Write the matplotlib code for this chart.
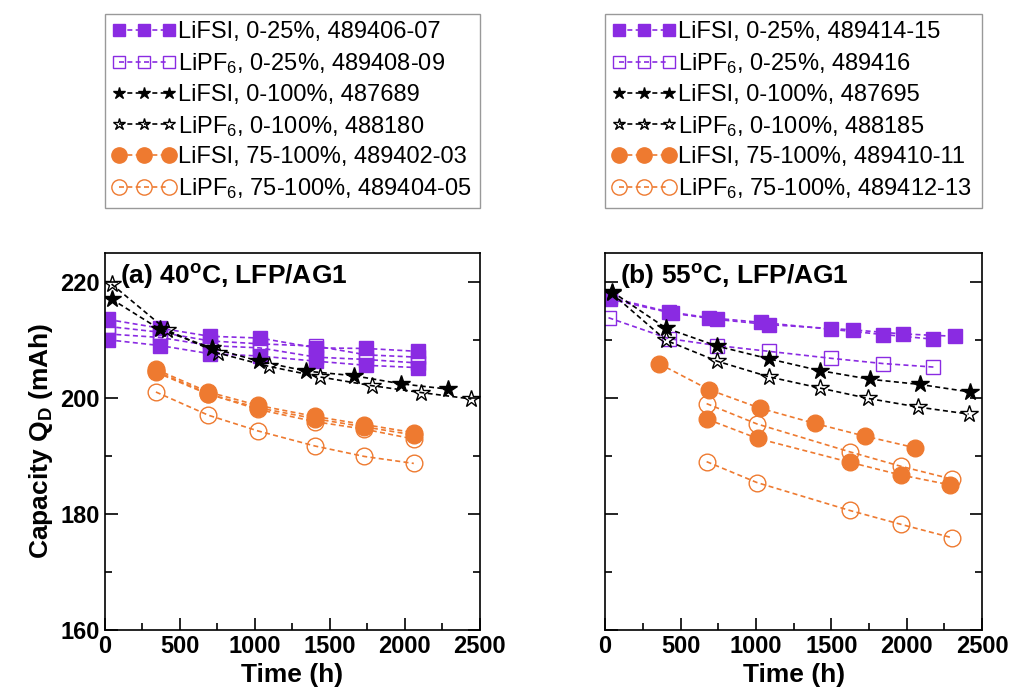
#!/usr/bin/env python3

"""
Capacity fade of LFP/AG1 cells at 40 and 55 C, LiFSI vs LiPF6
"""

import matplotlib
matplotlib.use("Agg")
import matplotlib.pyplot as plt

plt.rcParams["font.family"] = ["Liberation Sans", "DejaVu Sans"]
plt.rcParams["mathtext.fontset"] = "custom"
plt.rcParams["mathtext.rm"] = "Liberation Sans"
plt.rcParams["mathtext.bf"] = "Liberation Sans:bold"
plt.rcParams["mathtext.default"] = "regular"

PURPLE = "#8A2BE2"
ORANGE = "#EE7A30"

# ---- panel (a): 40C ----
a_sq_t = [20, 367, 700, 1033, 1411, 1744, 2089]
a_fsi25_1 = [213.5, 212.0, 210.6, 210.3, 208.6, 208.5, 208.0]
a_fsi25_2 = [210.0, 209.0, 207.6, 207.2, 206.3, 205.6, 205.2]
a_pf25_1 = [212.3, 211.3, 209.8, 209.3, 208.9, 207.4, 207.0]
a_pf25_2 = [211.0, 210.4, 209.0, 208.6, 207.0, 206.6, 206.0]

a_fsi100_t = [44, 367, 711, 1029, 1344, 1662, 1978, 2289]
a_fsi100 = [217.0, 211.8, 208.6, 206.3, 204.6, 203.8, 202.4, 201.5]
a_pf100_t = [44, 411, 756, 1096, 1433, 1778, 2111, 2444]
a_pf100 = [219.6, 211.7, 207.7, 205.4, 203.6, 202.1, 200.9, 199.8]

a_75_t = [340, 690, 1020, 1400, 1730, 2060]
a_fsi75_1 = [204.9, 201.0, 198.7, 196.8, 195.4, 194.0]
a_fsi75_2 = [204.4, 200.6, 198.3, 196.4, 195.0, 193.6]
a_pf75_1 = [204.6, 200.7, 198.0, 195.9, 194.6, 192.9]
a_pf75_2 = [201.0, 197.0, 194.3, 191.7, 189.9, 188.7]

# ---- panel (b): 55C ----
b_fsi25_t1 = [30, 422, 689, 1033, 1500, 1844, 2178]
b_fsi25_1 = [217.3, 214.8, 213.8, 213.0, 211.8, 210.9, 210.1]
b_fsi25_t2 = [30, 440, 744, 1089, 1644, 1978, 2322]
b_fsi25_2 = [217.0, 214.6, 213.5, 212.6, 211.7, 211.0, 210.6]
b_pf25_t = [22, 422, 744, 1089, 1500, 1844, 2178]
b_pf25 = [213.8, 210.2, 209.0, 208.0, 206.8, 205.9, 205.3]

b_fsi100_t = [44, 404, 744, 1089, 1422, 1756, 2089, 2422]
b_fsi100 = [218.3, 212.0, 208.9, 206.7, 204.7, 203.2, 202.3, 201.0]
b_pf100_t = [44, 404, 744, 1089, 1422, 1744, 2078, 2411]
b_pf100 = [218.0, 209.9, 206.3, 203.6, 201.7, 199.9, 198.4, 197.2]

b_fsi75_t1 = [356, 689, 1029, 1389, 1722, 2056]
b_fsi75_1 = [205.9, 201.4, 198.2, 195.6, 193.4, 191.4]
b_fsi75_t2 = [678, 1011, 1622, 1962, 2289]
b_fsi75_2 = [196.3, 193.0, 188.9, 186.7, 185.0]
b_pf75_t = [673, 1007, 1622, 1962, 2300]
b_pf75_1 = [199.0, 195.5, 190.7, 188.2, 186.0]
b_pf75_2 = [189.0, 185.4, 180.6, 178.2, 175.9]

labels_a = ["LiFSI, 0-25%, 489406-07", "LiPF$_6$, 0-25%, 489408-09",
            "LiFSI, 0-100%, 487689", "LiPF$_6$, 0-100%, 488180",
            "LiFSI, 75-100%, 489402-03", "LiPF$_6$, 75-100%, 489404-05"]
labels_b = ["LiFSI, 0-25%, 489414-15", "LiPF$_6$, 0-25%, 489416",
            "LiFSI, 0-100%, 487695", "LiPF$_6$, 0-100%, 488185",
            "LiFSI, 75-100%, 489410-11", "LiPF$_6$, 75-100%, 489412-13"]

# style per group: (color, marker, filled, size, legend size)
styles = [(PURPLE, "s", True, 10, 8), (PURPLE, "s", False, 10, 8),
          ("black", "*", True, 13, 9), ("black", "*", False, 13, 9),
          (ORANGE, "o", True, 12, 11), (ORANGE, "o", False, 12, 11)]

panel_a = [
    [(a_sq_t, a_fsi25_1), (a_sq_t, a_fsi25_2)],
    [(a_sq_t, a_pf25_1), (a_sq_t, a_pf25_2)],
    [(a_fsi100_t, a_fsi100)],
    [(a_pf100_t, a_pf100)],
    [(a_75_t, a_fsi75_1), (a_75_t, a_fsi75_2)],
    [(a_75_t, a_pf75_1), (a_75_t, a_pf75_2)],
]
panel_b = [
    [(b_fsi25_t1, b_fsi25_1), (b_fsi25_t2, b_fsi25_2)],
    [(b_pf25_t, b_pf25)],
    [(b_fsi100_t, b_fsi100)],
    [(b_pf100_t, b_pf100)],
    [(b_fsi75_t1, b_fsi75_1), (b_fsi75_t2, b_fsi75_2)],
    [(b_pf75_t, b_pf75_1), (b_pf75_t, b_pf75_2)],
]

fig = plt.figure(figsize=(10.24, 7.0), dpi=100)
ax1 = fig.add_axes([0.1025, 0.1, 0.366, 0.539])
ax2 = fig.add_axes([0.591, 0.1, 0.368, 0.539])


def draw(ax, groups, labels, title):
    handles = []
    for (col, mk, filled, ms, _), series, lab in zip(styles, groups, labels):
        for i, (t, q) in enumerate(series):
            h, = ax.plot(t, q, linestyle=(0, (3, 2)), lw=1.2, color=col,
                         marker=mk, ms=ms, mec=col, mew=1.0,
                         mfc=col if filled else "none",
                         label=lab if i == 0 else None)
            if i == 0:
                handles.append(h)
    ax.set_xlim(0, 2500)
    ax.set_ylim(160, 225)
    ax.set_xticks([0, 500, 1000, 1500, 2000, 2500])
    ax.set_xticks(range(250, 2500, 500), minor=True)
    ax.set_yticks([160, 180, 200, 220])
    ax.set_yticks([170, 190, 210], minor=True)
    ax.tick_params(which="both", direction="in", right=True, top=False,
                   labelsize=17, width=1.2)
    ax.tick_params(which="major", length=9)
    ax.tick_params(which="minor", length=5)
    for lbl in ax.get_xticklabels() + ax.get_yticklabels():
        lbl.set_fontweight("bold")
    for sp in ax.spines.values():
        sp.set_linewidth(1.2)
    ax.set_xlabel("Time (h)", fontsize=19, fontweight="bold", labelpad=4)
    ax.text(0.04, 0.975, title, transform=ax.transAxes, fontsize=19,
            fontweight="bold", va="top", ha="left")
    leg = ax.legend(handles=handles, loc="upper left",
                    bbox_to_anchor=(0, 1.0, 1, 0.632), mode="expand",
                    bbox_transform=ax.transAxes,
                    numpoints=3, handlelength=2.7,
                    handletextpad=0.1, labelspacing=0.33, borderpad=0.3,
                    fontsize=17, fancybox=False, edgecolor="#999999",
                    framealpha=1, borderaxespad=0)
    leg.get_frame().set_linewidth(1.0)
    for lh, st in zip(leg.legend_handles, styles):
        lh.set_markersize(st[4])


draw(ax1, panel_a, labels_a, r"(a) 40$^o$C, LFP/AG1")
draw(ax2, panel_b, labels_b, r"(b) 55$^o$C, LFP/AG1")
ax2.set_yticklabels([])
ax1.set_ylabel("Capacity Q$_D$ (mAh)", fontsize=19,
               fontweight="bold", labelpad=4)

fig.savefig("out.png", dpi=100)
plt.close(fig)
